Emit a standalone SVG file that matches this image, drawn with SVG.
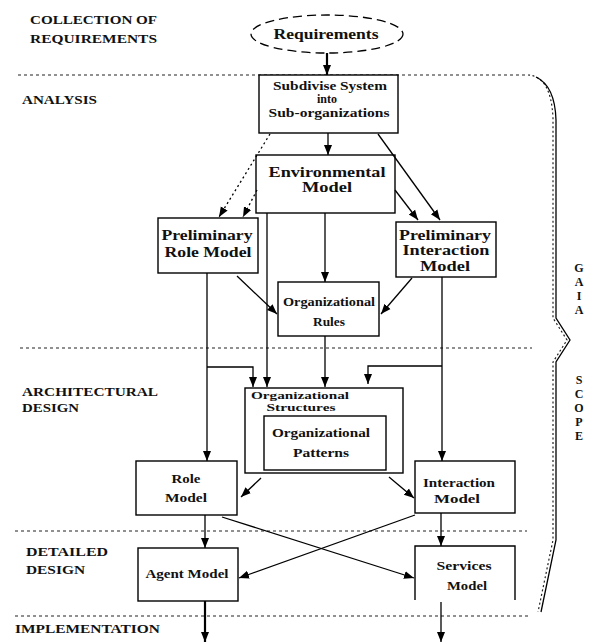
<svg xmlns="http://www.w3.org/2000/svg" width="594" height="644" viewBox="0 0 594 644">
<style>
.box{fill:#fff;stroke:#000;stroke-width:1.4}
.t{font-family:"Liberation Serif","Times New Roman",serif;font-weight:bold;fill:#111;text-anchor:middle}
.big{font-size:14px}
.med{font-size:13px}
.s12{font-size:12px}
.sm{font-size:11px}
.lab{font-family:"Liberation Serif","Times New Roman",serif;font-weight:bold;font-size:12px;fill:#111}
.sep{stroke:#222;stroke-width:1.2;stroke-dasharray:3 3;fill:none}
.c{stroke:#000;stroke-width:1.3;fill:none}
.thick{stroke-width:2.2}
.dot{stroke-dasharray:2 3}
</style>
<defs>
<marker id="ah" markerUnits="userSpaceOnUse" markerWidth="10" markerHeight="10" viewBox="0 0 10 10" refX="10" refY="5" orient="auto">
<path d="M0,1 L10,5 L0,9 Z" fill="#000"/>
</marker>
</defs>

<g id="phase-labels">
<text class="lab" x="30" y="24" textLength="127" lengthAdjust="spacingAndGlyphs">COLLECTION OF</text>
<text class="lab" x="30" y="43" textLength="127" lengthAdjust="spacingAndGlyphs">REQUIREMENTS</text>
<text class="lab" x="22" y="104" textLength="75" lengthAdjust="spacingAndGlyphs">ANALYSIS</text>
<text class="lab" x="22" y="396" textLength="136" lengthAdjust="spacingAndGlyphs">ARCHITECTURAL</text>
<text class="lab" x="22" y="412" textLength="57" lengthAdjust="spacingAndGlyphs">DESIGN</text>
<text class="lab" x="26" y="556" textLength="82" lengthAdjust="spacingAndGlyphs">DETAILED</text>
<text class="lab" x="26" y="574" textLength="59" lengthAdjust="spacingAndGlyphs">DESIGN</text>
<text class="lab" x="15" y="633" textLength="145" lengthAdjust="spacingAndGlyphs">IMPLEMENTATION</text>
</g>

<g id="separators">
<line class="sep" x1="18" y1="75" x2="528" y2="75"/>
<line class="sep" x1="20" y1="348" x2="532" y2="348"/>
<line class="sep" x1="15" y1="531" x2="527" y2="531"/>
<line class="sep" x1="15" y1="616" x2="528" y2="616"/>
</g>

<g id="gaia-scope">
<path d="M528,75 Q551,76 553,118 L553,318 L567,340 L553,362 L553,540 L538,612" fill="none" stroke="#222" stroke-width="1.2" stroke-dasharray="2 2.5"/>
<path d="M536,77 Q555,86 556,120 L556,318 L570,340 L556,362 L556,540 L541,612" fill="none" stroke="#000" stroke-width="1.3"/>
<g class="lab" style="text-anchor:middle">
<text x="579" y="272">G</text>
<text x="579" y="286">A</text>
<text x="579" y="300">I</text>
<text x="579" y="314">A</text>
<text x="579" y="384">S</text>
<text x="579" y="398">C</text>
<text x="579" y="412">O</text>
<text x="579" y="426">P</text>
<text x="579" y="440">E</text>
</g>
</g>

<g id="requirements">
<ellipse cx="327" cy="34" rx="76" ry="19" fill="#fff" stroke="#000" stroke-width="1.3" stroke-dasharray="9 5"/>
<text class="t big" x="326" y="39" textLength="105" lengthAdjust="spacingAndGlyphs">Requirements</text>
</g>

<g id="subdivise">
<rect class="box" x="259" y="75" width="139" height="58"/>
<text class="t s12" x="330" y="90" textLength="114" lengthAdjust="spacingAndGlyphs">Subdivise System</text>
<text class="t s12" x="327" y="103">into</text>
<text class="t s12" x="329" y="117" textLength="121" lengthAdjust="spacingAndGlyphs">Sub-organizations</text>
</g>

<g id="environmental-model">
<rect class="box" x="256" y="155" width="139" height="58"/>
<text class="t big" x="327" y="177" textLength="117" lengthAdjust="spacingAndGlyphs">Environmental</text>
<text class="t big" x="327" y="192" textLength="50" lengthAdjust="spacingAndGlyphs">Model</text>
</g>

<g id="preliminary-role-model">
<rect class="box" x="158" y="218" width="100" height="55"/>
<text class="t big" x="207" y="240" textLength="91" lengthAdjust="spacingAndGlyphs">Preliminary</text>
<text class="t big" x="208" y="257" textLength="87" lengthAdjust="spacingAndGlyphs">Role Model</text>
</g>

<g id="preliminary-interaction-model">
<rect class="box" x="396" y="222" width="100" height="55"/>
<text class="t big" x="445" y="240" textLength="92" lengthAdjust="spacingAndGlyphs">Preliminary</text>
<text class="t big" x="446" y="255" textLength="87" lengthAdjust="spacingAndGlyphs">Interaction</text>
<text class="t big" x="445" y="271" textLength="50" lengthAdjust="spacingAndGlyphs">Model</text>
</g>

<g id="organizational-rules">
<rect class="box" x="278" y="282" width="101" height="54"/>
<text class="t med" x="329" y="306" textLength="92" lengthAdjust="spacingAndGlyphs">Organizational</text>
<text class="t med" x="329" y="326" textLength="32" lengthAdjust="spacingAndGlyphs">Rules</text>
</g>

<g id="organizational-structures">
<rect class="box" x="245" y="388" width="158" height="85"/>
<text class="t sm" x="300" y="399" textLength="98" lengthAdjust="spacingAndGlyphs">Organizational</text>
<text class="t sm" x="301" y="411" textLength="69" lengthAdjust="spacingAndGlyphs">Structures</text>
</g>

<g id="organizational-patterns">
<rect class="box" x="264" y="416" width="122" height="54"/>
<text class="t med" x="321" y="437" textLength="98" lengthAdjust="spacingAndGlyphs">Organizational</text>
<text class="t med" x="321" y="457" textLength="56" lengthAdjust="spacingAndGlyphs">Patterns</text>
</g>

<g id="role-model">
<rect class="box" x="136" y="461" width="101" height="54"/>
<text class="t med" x="186" y="483" textLength="29" lengthAdjust="spacingAndGlyphs">Role</text>
<text class="t med" x="186" y="502" textLength="42" lengthAdjust="spacingAndGlyphs">Model</text>
</g>

<g id="interaction-model">
<rect class="box" x="415" y="461" width="100" height="52"/>
<text class="t med" x="459" y="487" textLength="72" lengthAdjust="spacingAndGlyphs">Interaction</text>
<text class="t med" x="457" y="503" textLength="46" lengthAdjust="spacingAndGlyphs">Model</text>
</g>

<g id="agent-model">
<rect class="box" x="138" y="548" width="100" height="53"/>
<text class="t med" x="187" y="578" textLength="83" lengthAdjust="spacingAndGlyphs">Agent Model</text>
</g>

<g id="services-model">
<path class="box" d="M415,600 V546 H515 V600" fill="#fff"/>
<text class="t med" x="464" y="570" textLength="55" lengthAdjust="spacingAndGlyphs">Services</text>
<text class="t med" x="467" y="590" textLength="40" lengthAdjust="spacingAndGlyphs">Model</text>
</g>

<g id="connectors">
<line class="c thick" x1="327" y1="53" x2="327" y2="75" marker-end="url(#ah)"/>
<line class="c" x1="328" y1="133" x2="328" y2="155" marker-end="url(#ah)"/>
<line class="c dot" x1="270" y1="134" x2="219" y2="217" marker-end="url(#ah)"/>
<line class="c dot" x1="257" y1="190" x2="243" y2="217" marker-end="url(#ah)"/>
<line class="c" x1="378" y1="134" x2="440" y2="220" marker-end="url(#ah)"/>
<line class="c" x1="395" y1="190" x2="418" y2="220" marker-end="url(#ah)"/>
<line class="c" x1="325" y1="213" x2="325" y2="282" marker-end="url(#ah)"/>
<line class="c" x1="237" y1="276" x2="277" y2="314" marker-end="url(#ah)"/>
<line class="c" x1="412" y1="278" x2="381" y2="314" marker-end="url(#ah)"/>
<line class="c" x1="207" y1="273" x2="207" y2="461" marker-end="url(#ah)"/>
<polyline class="c" points="207,367 253,367 253,387" marker-end="url(#ah)"/>
<line class="c" x1="267" y1="213" x2="267" y2="387" marker-end="url(#ah)"/>
<line class="c" x1="325" y1="336" x2="325" y2="387" marker-end="url(#ah)"/>
<line class="c" x1="442" y1="277" x2="442" y2="461" marker-end="url(#ah)"/>
<polyline class="c" points="442,366 368,366 368,384" marker-end="url(#ah)"/>
<line class="c" x1="261" y1="478" x2="241" y2="497" marker-end="url(#ah)"/>
<line class="c" x1="389" y1="477" x2="414" y2="498" marker-end="url(#ah)"/>
<line class="c" x1="205" y1="515" x2="205" y2="548" marker-end="url(#ah)"/>
<line class="c" x1="441" y1="513" x2="441" y2="546" marker-end="url(#ah)"/>
<line class="c" x1="222" y1="517" x2="414" y2="578" marker-end="url(#ah)"/>
<line class="c" x1="415" y1="515" x2="239" y2="578" marker-end="url(#ah)"/>
<line class="c thick" x1="205" y1="601" x2="205" y2="642" marker-end="url(#ah)"/>
<line class="c" x1="441" y1="602" x2="441" y2="642" marker-end="url(#ah)"/>
</g>
</svg>
